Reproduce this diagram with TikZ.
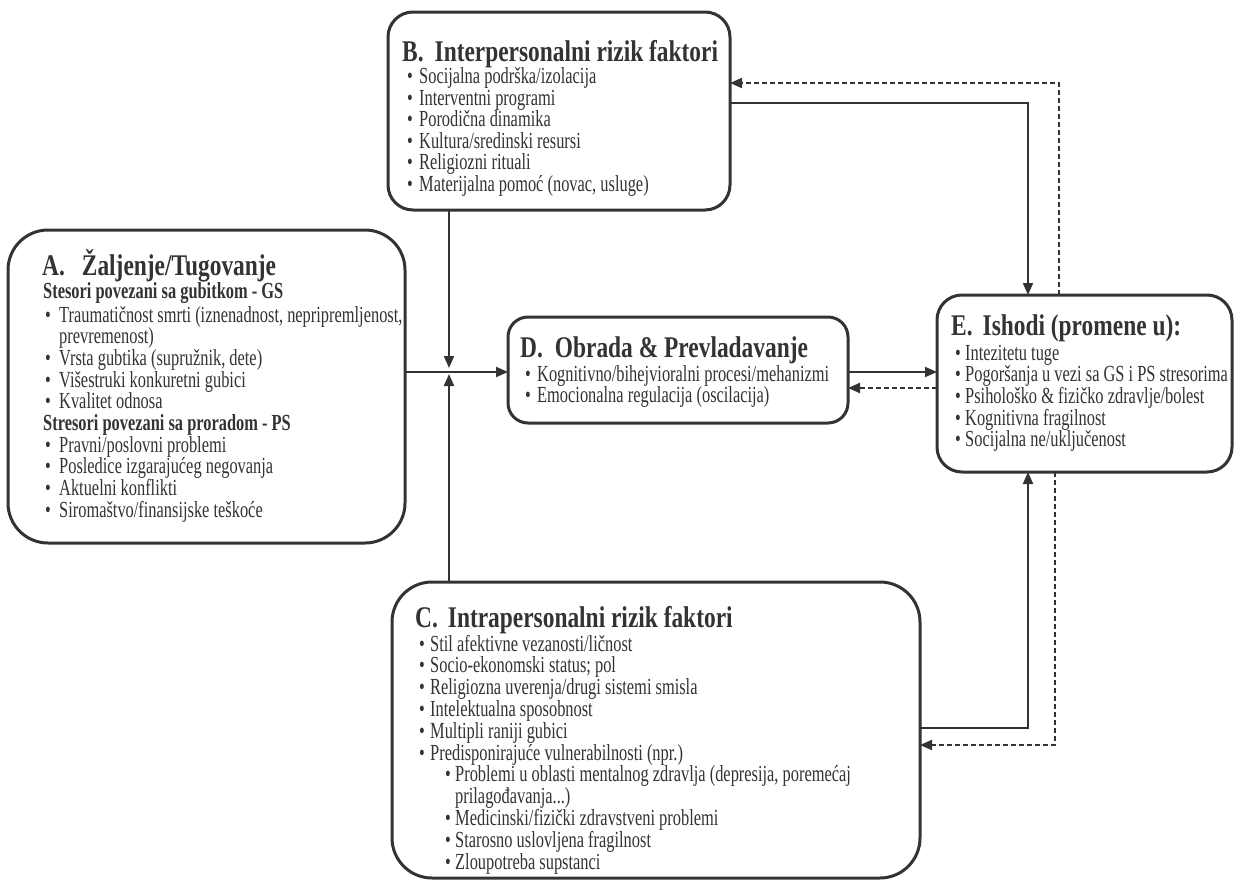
\documentclass[tikz,border=0pt]{standalone}
\usepackage{fontspec}
\setmainfont{Liberation Serif}[FakeStretch=0.713]
\newfontfamily\ttlfont{Liberation Serif}[FakeStretch=0.78]
\usetikzlibrary{arrows.meta}
\definecolor{ink}{HTML}{333333}
\newcommand\bul[1]{\makebox[#1][l]{•}}
\tikzset{
  box/.style={draw=ink, line width=3pt, rounded corners=#1, inner sep=0pt, outer sep=0pt, anchor=north west},
  ttl/.style={anchor=base west, inner sep=0pt, font=\ttlfont\fontsize{30}{30}\selectfont\bfseries, text=ink},
  itm/.style={anchor=base west, inner sep=0pt, font=\fontsize{23}{22}\selectfont, text=ink},
  subh/.style={anchor=base west, inner sep=0pt, font=\fontsize{23}{22}\selectfont\bfseries, text=ink},
  conn/.style={draw=ink, line width=2pt},
  arr/.style={conn, -{Triangle[length=12pt,width=10pt]}},
  darr/.style={arr, dash pattern=on 5pt off 3pt},
}
\begin{document}
\begin{tikzpicture}[x=1pt, y=-1pt]
\useasboundingbox (0,0) rectangle (1235,881);
\fill[white] (0,0) rectangle (1235,881);

% boxes
\node[box=25pt, minimum width=342pt, minimum height=198pt] (B) at (388,12) {};
\node[box=40pt, minimum width=397pt, minimum height=313pt] (A) at (8,230) {};
\node[box=20pt, minimum width=340pt, minimum height=106pt] (D) at (508,317) {};
\node[box=25pt, minimum width=295pt, minimum height=177pt] (E) at (937,295) {};
\node[box=40pt, minimum width=528pt, minimum height=296pt] (C) at (392,582) {};

% A text
\node[ttl] (a0) at (42,275) {A.\hspace{17pt}Žaljenje/Tugovanje};
\node[subh] (a1) at (43,298) {Stesori povezani sa gubitkom - GS};
\node[itm] (a2) at (45,322) {\bul{14pt}Traumatičnost smrti (iznenadnost, nepripremljenost,};
\node[itm] (a3) at (59,343.7) {prevremenost)};
\node[itm] (a4) at (45,365.4) {\bul{14pt}Vrsta gubtika (supružnik, dete)};
\node[itm] (a5) at (45,387.1) {\bul{14pt}Višestruki konkuretni gubici};
\node[itm] (a6) at (45,408.8) {\bul{14pt}Kvalitet odnosa};
\node[subh] (a7) at (43,430.5) {Stresori povezani sa proradom - PS};
\node[itm] (a8) at (45,452.2) {\bul{14pt}Pravni/poslovni problemi};
\node[itm] (a9) at (45,473.9) {\bul{14pt}Posledice izgarajućeg negovanja};
\node[itm] (a10) at (45,495.6) {\bul{14pt}Aktuelni konflikti};
\node[itm] (a11) at (45,517.3) {\bul{14pt}Siromaštvo/finansijske teškoće};

% B text
\node[ttl] (b0) at (402,61) {B.\hspace{11pt}Interpersonalni rizik faktori};
\foreach \t [count=\i] in {Socijalna podrška/izolacija, Interventni programi, Porodična dinamika, Kultura/sredinski resursi, Religiozni rituali, {Materijalna pomoć (novac, usluge)}}
  \node[itm] (b\i) at (407,{83.5+21.5*(\i-1)}) {\bul{12pt}\t};

% D text
\node[ttl] (d0) at (520,357) {D.\hspace{12pt}Obrada \& Prevladavanje};
\node[itm] (d1) at (525,381) {\bul{12pt}Kognitivno/bihejvioralni procesi/mehanizmi};
\node[itm] (d2) at (525,402.5) {\bul{12pt}Emocionalna regulacija (oscilacija)};

% E text
\node[ttl] (e0) at (951,335) {E.\hspace{10pt}Ishodi (promene u):};
\foreach \t [count=\i] in {Intezitetu tuge, Pogoršanja u vezi sa GS i PS stresorima, Psihološko \& fizičko zdravlje/bolest, Kognitivna fragilnost, Socijalna ne/uključenost}
  \node[itm] (e\i) at (955,{360+21.7*(\i-1)}) {\bul{10pt}\t};

% C text
\node[ttl] (c0) at (415,627) {C.\hspace{10pt}Intrapersonalni rizik faktori};
\foreach \t [count=\i] in {Stil afektivne vezanosti/ličnost, Socio-ekonomski status; pol, Religiozna uverenja/drugi sistemi smisla, Intelektualna sposobnost, Multipli raniji gubici, Predisponirajuće vulnerabilnosti (npr.)}
  \node[itm] (c\i) at (419,{651+21.8*(\i-1)}) {\bul{11pt}\t};
\node[itm] (c7) at (445,781.8) {\bul{10pt}Problemi u oblasti mentalnog zdravlja (depresija, poremećaj};
\node[itm] (c8) at (455,803.6) {prilagođavanja...)};
\node[itm] (c9) at (445,825.4) {\bul{10pt}Medicinski/fizički zdravstveni problemi};
\node[itm] (c10) at (445,847.2) {\bul{10pt}Starosno uslovljena fragilnost};
\node[itm] (c11) at (445,869) {\bul{10pt}Zloupotreba supstanci};

% connector helper coordinates
\coordinate (j) at (449,372);
\coordinate (jd) at (449,368);
\coordinate (ju) at (449,374);
\coordinate (be) at (1028,103);
\coordinate (eb) at (1059,83);
\coordinate (ce) at (1028,728);
\coordinate (ec) at (1055,745);
\coordinate (de) at (848,388);

% connectors
\draw[arr] (A.east |- j) -- (D.west |- j);
\draw[arr] (B.south -| j) -- (jd);
\draw[arr] (C.north -| j) -- (ju);
\draw[arr] (D.east |- j) -- (E.west |- j);
\draw[darr] (E.west |- de) -- (D.east |- de);
\draw[arr] (B.east |- be) -- (be) -- (E.north -| be);
\draw[darr] (E.north -| eb) -- (eb) -- (B.east |- eb);
\draw[arr] (C.east |- ce) -- (ce) -- (E.south -| ce);
\draw[darr] (E.south -| ec) -- (ec) -- (C.east |- ec);
\end{tikzpicture}
\end{document}
